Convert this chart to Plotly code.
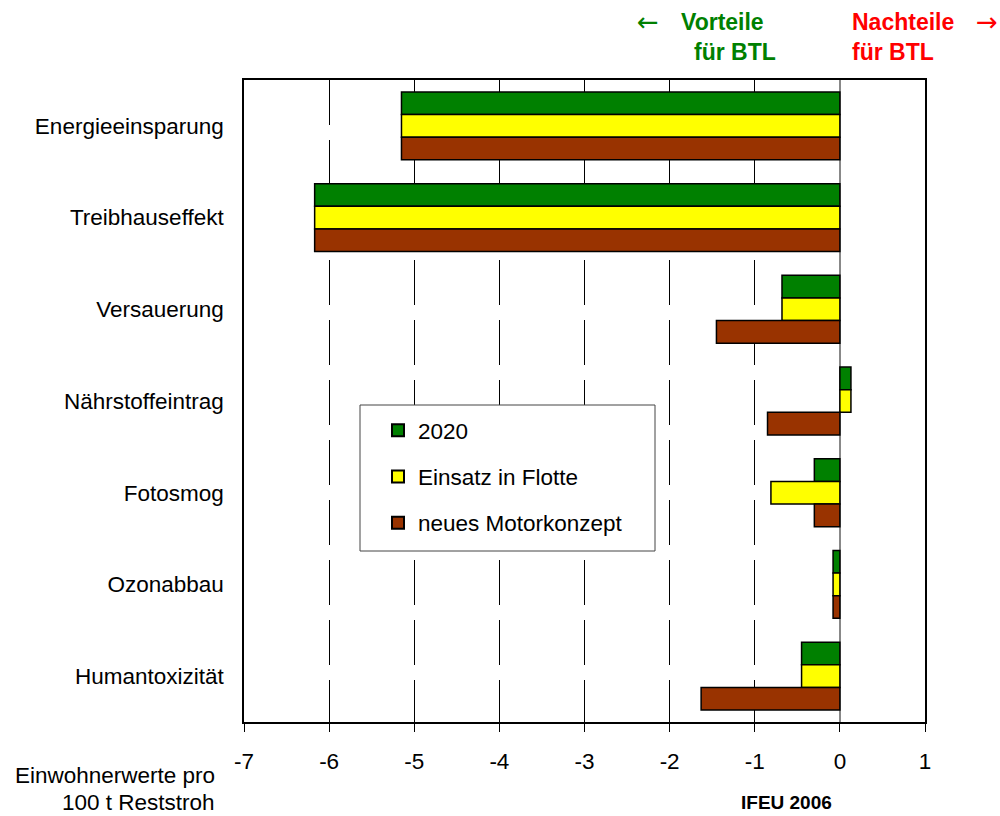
import plotly.graph_objects as go

# Wirkungskategorien (von oben nach unten)
kategorien = ["Energieeinsparung", "Treibhauseffekt", "Versauerung",
              "Nährstoffeintrag", "Fotosmog", "Ozonabbau", "Humantoxizität"]

# Einwohnerwerte pro 100 t Reststroh
werte_2020 = [-5.15, -6.17, -0.68, 0.13, -0.30, -0.08, -0.45]
werte_flotte = [-5.15, -6.17, -0.68, 0.13, -0.81, -0.08, -0.45]
werte_motor = [-5.15, -6.17, -1.45, -0.85, -0.30, -0.08, -1.63]

x_ticks = [-7, -6, -5, -4, -3, -2, -1, 0, 1]

W, H = 1000, 816
L, R, T, B = 244, 925, 80, 722
FONT = "Liberation Sans, Arial, sans-serif"
FS = 22.5


def px(x):
    return (x - L) / (R - L)


def py(y):
    return (B - y) / (B - T)


fig = go.Figure()
reihen = [
    ("2020", werte_2020, "#008000"),
    ("Einsatz in Flotte", werte_flotte, "#FFFF00"),
    ("neues Motorkonzept", werte_motor, "#993300"),
]
for i, (name, werte, farbe) in enumerate(reihen):
    fig.add_trace(go.Bar(
        y=kategorien, x=werte, name=name, orientation="h",
        marker=dict(color=farbe, line=dict(color="black", width=1.5)),
        legendgroup=f"g{i}",
    ))

fig.update_layout(
    width=W, height=H,
    margin=dict(l=L, r=W - R, t=T, b=H - B),
    paper_bgcolor="white", plot_bgcolor="white",
    barmode="group", bargap=0.26, bargroupgap=0,
    font=dict(family=FONT, size=FS, color="black"),
    showlegend=True,
    legend=dict(
        x=px(378), y=py(409), xanchor="left", yanchor="top",
        bgcolor="rgba(0,0,0,0)", borderwidth=0,
        font=dict(size=FS), tracegroupgap=14,
        itemsizing="constant",
    ),
)

# Rahmen der Legende (weiß gefüllt, verdeckt die Gitterlinien)
fig.add_shape(
    type="rect", xref="paper", yref="paper",
    x0=px(360), x1=px(655), y0=py(551), y1=py(405),
    fillcolor="white", line=dict(color="#444", width=1), layer="above",
)

fig.update_xaxes(
    range=[-7, 1], tickvals=x_ticks, ticktext=[str(v) for v in x_ticks],
    showgrid=True, gridcolor="black", gridwidth=1, griddash="45px,15px",
    zeroline=True, zerolinecolor="#888", zerolinewidth=2,
    showline=True, linecolor="black", linewidth=2, mirror=True,
    ticks="outside", ticklen=8, tickcolor="black",
    tickfont=dict(size=FS), ticklabelstandoff=10,
)
fig.update_yaxes(
    categoryorder="array", categoryarray=kategorien, autorange="reversed",
    showgrid=False, showline=True, linecolor="black", linewidth=1.5, mirror=True,
    ticks="", tickfont=dict(size=FS), ticklabelstandoff=14,
)

PFEIL = "DejaVu Sans, sans-serif"
anmerkungen = [
    ("←", 648, 22, "#008000", 26, PFEIL, "center"),
    ("<b>Vorteile</b>", 680, 22, "#008000", 23, FONT, "left"),
    ("<b>für BTL</b>", 693, 52, "#008000", 23, FONT, "left"),
    ("<b>Nachteile</b>", 851, 22, "#FF0000", 23, FONT, "left"),
    ("<b>für BTL</b>", 851, 52, "#FF0000", 23, FONT, "left"),
    ("→", 987, 22, "#FF0000", 26, PFEIL, "center"),
    ("Einwohnerwerte pro", 216, 775, "black", FS, FONT, "right"),
    ("100 t Reststroh", 216, 802, "black", FS, FONT, "right"),
    ("<b>IFEU 2006</b>", 786, 802, "black", 19, FONT, "center"),
]
for text, x, y, farbe, groesse, familie, anker in anmerkungen:
    fig.add_annotation(
        text=text, x=px(x), y=py(y), xref="paper", yref="paper",
        xanchor=anker, yanchor="middle", showarrow=False, borderpad=0,
        font=dict(family=familie, size=groesse, color=farbe),
    )

fig.write_html("out.html")
